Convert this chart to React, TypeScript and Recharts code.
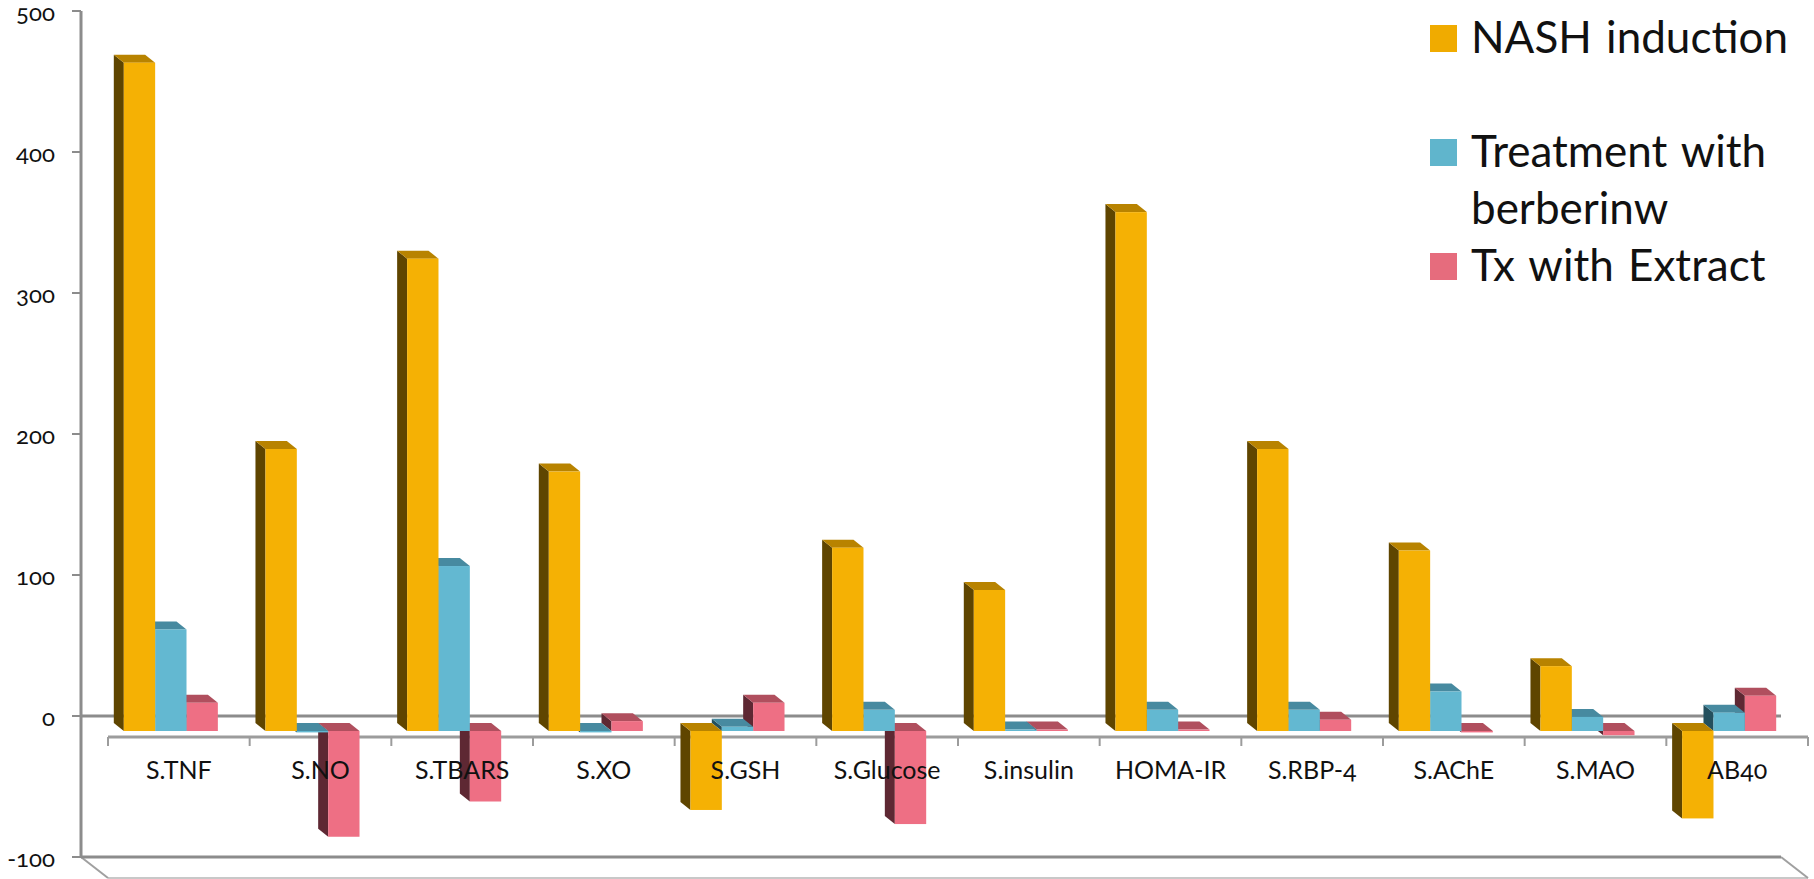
import { BarChart, Bar, XAxis, YAxis, Legend, ReferenceLine } from 'recharts';

const categories = ['S.TNF', 'S.NO', 'S.TBARS', 'S.XO', 'S.GSH', 'S.Glucose', 'S.insulin', 'HOMA-IR', 'S.RBP-4', 'S.AChE', 'S.MAO', 'AB40'];
const nashInduction = [474, 200, 335, 184, -56, 130, 100, 368, 200, 128, 46, -62];
const treatmentBerberine = [72, -1, 117, -1, 3, 15, 1, 15, 15, 28, 10, 13];
const txExtract = [20, -75, -50, 7, 20, -66, 1, 1, 8, -1, -3, 25];
const yTicks = [-100, 0, 100, 200, 300, 400, 500];

const data = categories.map((name, i) => ({
  name,
  nash: nashInduction[i],
  berberine: treatmentBerberine[i],
  extract: txExtract[i],
}));

const series = [
  { key: 'nash', label: ['NASH induction', ''], slot: 0, front: '#f5b104', top: '#b88300', side: '#5f4500', swatch: '#f0ab00' },
  { key: 'berberine', label: ['Treatment with', 'berberinw'], slot: 1, front: '#63b8d1', top: '#478aa0', side: '#24505e', swatch: '#60b5cc' },
  { key: 'extract', label: ['Tx with Extract'], slot: 2, front: '#ee6f84', top: '#b04f5e', side: '#5e2833', swatch: '#e66c7d' },
];

const FONT = 'Lato, sans-serif';
const AXIS_COLOR = '#8c8c8c';

// oblique projection: wall plane -> floor front edge, wall plane -> bar front face, bar thickness
const FLOOR_DX = 27;
const FLOOR_DY = 21;
const BAR_DX = 19;
const BAR_DY = 15;
const BAR_DEPTH_X = 10;
const BAR_DEPTH_Y = 8;
// the library rounds bar widths down to whole pixels
const WIDTH_EXTRA = 0.35;

function pts(list: number[][]) {
  return list.map((p) => p.join(',')).join(' ');
}

function boxShape(s: (typeof series)[number]) {
  return function Box(props: any) {
    const { x, y, width, height } = props;
    const left = x + s.slot * WIDTH_EXTRA + BAR_DX;
    const right = left + width + WIDTH_EXTRA;
    const top = Math.min(y, y + height) + BAR_DY;
    const bottom = Math.max(y, y + height) + BAR_DY;
    const dx = BAR_DEPTH_X;
    const dy = BAR_DEPTH_Y;
    return (
      <g>
        <polygon points={pts([[left, top], [left, bottom], [left - dx, bottom - dy], [left - dx, top - dy]])} fill={s.side} />
        <polygon points={pts([[left - dx, top - dy], [right - dx, top - dy], [right, top], [left, top]])} fill={s.top} />
        <rect x={left} y={top} width={right - left} height={bottom - top} fill={s.front} />
      </g>
    );
  };
}

function ZeroLines(props: any) {
  const { x1, x2, y1 } = props;
  return (
    <g fill="none">
      <line x1={x1} x2={x2} y1={y1} y2={y1} stroke={AXIS_COLOR} strokeWidth={3} />
      <line x1={x1 + FLOOR_DX} x2={x2 + FLOOR_DX} y1={y1 + FLOOR_DY} y2={y1 + FLOOR_DY} strokeWidth={3} stroke="#9c9c9c" />
    </g>
  );
}

function Floor(props: any) {
  const { x1, x2, y1 } = props;
  return (
    <g fill="none">
      <line x1={x1 + FLOOR_DX} x2={x2 + FLOOR_DX} y1={y1 + FLOOR_DY} y2={y1 + FLOOR_DY} stroke="#c8c8c8" strokeWidth={2} />
      <line x1={x1} x2={x1 + FLOOR_DX} y1={y1} y2={y1 + FLOOR_DY} stroke="#a0a0a0" strokeWidth={2} />
      <line x1={x2} x2={x2 + FLOOR_DX} y1={y1} y2={y1 + FLOOR_DY} stroke="#a0a0a0" strokeWidth={2} />
      <line x1={x1} x2={x2} y1={y1} y2={y1} stroke={AXIS_COLOR} strokeWidth={3} />
    </g>
  );
}

const BAND = 1700 / categories.length;

// tick marks hang off the front axis line, on the category boundaries
function BoundaryTick(props: any) {
  const { x, index } = props;
  const edge = x - BAND / 2 + FLOOR_DX;
  const lineY = 737;
  return (
    <g stroke="#9c9c9c" strokeWidth={2}>
      <line x1={edge} x2={edge} y1={lineY} y2={lineY + 9} />
      {index === categories.length - 1 && <line x1={edge + BAND} x2={edge + BAND} y1={lineY} y2={lineY + 9} />}
    </g>
  );
}

function CategoryLabel(props: any) {
  const { x, payload } = props;
  return (
    <text x={x + FLOOR_DX} y={779} textAnchor="middle" fontFamily={FONT} fontSize={25} fill="#111" style={{ fontVariantNumeric: 'oldstyle-nums' }}>
      {payload.value}
    </text>
  );
}

function ValueTick(props: any) {
  const { x, y, payload } = props;
  return (
    <text x={x} y={y + 10} textAnchor="end" fontFamily={FONT} fontSize={24} fill="#111" style={{ fontVariantNumeric: 'oldstyle-nums' }}>
      {payload.value}
    </text>
  );
}

function LegendBlock() {
  const rows = [
    { s: series[0], top: 0 },
    { s: series[1], top: 114 },
    { s: series[2], top: 228 },
  ];
  return (
    <div style={{ position: 'relative', width: 370, height: 300, fontFamily: FONT, fontSize: 44, lineHeight: '57px', wordSpacing: 3, color: '#111' }}>
      {rows.map(({ s, top }) => (
        <div key={s.key}>
          <div style={{ position: 'absolute', left: 0, top: top + 25, width: 27, height: 27, background: s.swatch }} />
          <div style={{ position: 'absolute', left: 41, top: top + 8, whiteSpace: 'nowrap' }}>
            {s.label.map((line, i) => (
              <div key={i}>{line}</div>
            ))}
          </div>
        </div>
      ))}
    </div>
  );
}

export default function App() {
  return (
    <div style={{ position: 'absolute', left: 0, top: 0, width: 1814, height: 879, background: '#fff', overflow: 'hidden' }}>
      <BarChart
        width={1814}
        height={879}
        data={data}
        margin={{ top: 11, right: 33, bottom: 0, left: 0 }}
        barCategoryGap={23.8}
        barGap={0}
      >
        <YAxis
          domain={[-100, 500]}
          ticks={yTicks}
          width={81}
          interval={0}
          tickSize={9}
          tickMargin={17}
          tick={ValueTick}
          axisLine={{ stroke: AXIS_COLOR, strokeWidth: 3 }}
          tickLine={{ stroke: AXIS_COLOR, strokeWidth: 2 }}
        />
        <ReferenceLine y={-100} shape={Floor} zIndex={-10} />
        <ReferenceLine y={0} shape={ZeroLines} zIndex={-10} />
        <XAxis xAxisId="frame" dataKey="name" height={1} interval={0} axisLine={false} tickLine={false} tick={BoundaryTick} zIndex={-10} />
        {series.map((s) => (
          // nearer bars sit above the side face of the bar on their right
          <Bar key={s.key} dataKey={s.key} isAnimationActive={false} shape={boxShape(s)} zIndex={300 - s.slot} />
        ))}
        <XAxis dataKey="name" height={21} interval={0} axisLine={false} tickLine={false} tick={CategoryLabel} />
        <Legend
          layout="vertical"
          align="center"
          verticalAlign="middle"
          content={<LegendBlock />}
          wrapperStyle={{ position: 'absolute', left: 1430, top: 0, width: 370, height: 300, transform: 'none' }}
        />
      </BarChart>
    </div>
  );
}
